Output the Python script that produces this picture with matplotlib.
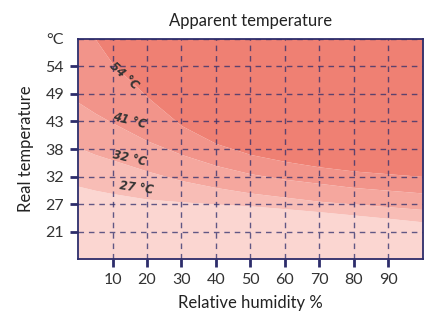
import numpy as np
import matplotlib.pyplot as plt

# data (x: relative humidity %, y: real temperature in °F, labelled in °C)
humidity = [0, 5, 10, 20, 30, 40, 50, 60, 70, 80, 90, 100]
curve_54 = [150, 140, 131, 119, 108.5, 102, 98, 95.5, 93.5, 92, 91, 90]
curve_41 = [117, 113, 109.5, 103, 98, 94, 91, 89, 87.5, 86, 85, 84]
curve_32 = [100.5, 98, 96, 92, 88.5, 86, 84, 82.5, 81, 80, 79, 78]
curve_27 = [86.5, 85, 83.8, 81.8, 80.8, 80, 79.3, 78.3, 77.2, 76, 74.8, 73.5]

x_ticks = [10, 20, 30, 40, 50, 60, 70, 80, 90]
y_ticks_f = [70, 80, 90, 100, 110, 120, 130]
y_labels_c = ["21", "27", "32", "38", "43", "49", "54"]

curve_labels = ["54 °C", "41 °C", "32 °C", "27 °C"]
label_pos = [(13.4, 126.5), (14.8, 110.2), (14.8, 96.7), (17.0, 85.8)]
label_rot = [-42, -14, -13, -8]

band_colors = ["#fbd6d1", "#f8bdb6", "#f5a79e", "#f2948a", "#ef8073"]
navy = "#2d2d6b"
text_col = "#333333"

plt.rcParams["font.family"] = ["Lato", "DejaVu Sans"]

fig = plt.figure(figsize=(4.3, 3.11), dpi=100)
ax = fig.add_axes([0.1814, 0.1672, 0.8023, 0.7074])

lows = [np.full(len(humidity), 50.0), curve_27, curve_32, curve_41, curve_54]
highs = [curve_27, curve_32, curve_41, curve_54, np.full(len(humidity), 160.0)]
for lo, hi, c in zip(lows, highs, band_colors):
    ax.fill_between(humidity, lo, hi, color=c, linewidth=0, zorder=1)

for txt, (hx, ty), rot in zip(curve_labels, label_pos, label_rot):
    ax.text(hx, ty, txt, rotation=rot, ha="center", va="center", fontsize=8.3,
            fontweight="bold", fontstyle="italic", color=text_col, zorder=4,
            family=["DejaVu Sans"])

ax.set_xlim(0, 100)
ax.set_ylim(60, 140)
ax.set_xticks(x_ticks)
ax.set_yticks(y_ticks_f + [140])
ax.set_yticklabels(y_labels_c + ["°C"])
ax.yaxis.get_major_ticks()[-1].tick1line.set_visible(False)

ax.grid(True, color=navy, linestyle=(0, (4, 3.5)), linewidth=1.0, alpha=0.75, zorder=3)
ax.set_axisbelow(False)
ax.tick_params(axis="both", direction="out", length=6, width=2, color=navy,
               labelsize=11.5, labelcolor=text_col, pad=4)
for sp in ax.spines.values():
    sp.set_color(navy)
    sp.set_linewidth(1.3)
    sp.set_zorder(5)

ax.set_title("Apparent temperature", fontsize=12, color="#222222", pad=9)
ax.set_xlabel("Relative humidity %", fontsize=12, color="#222222", labelpad=6)
ax.set_ylabel("Real temperature", fontsize=12, color="#222222", labelpad=8)

fig.savefig("out.png", dpi=100)
